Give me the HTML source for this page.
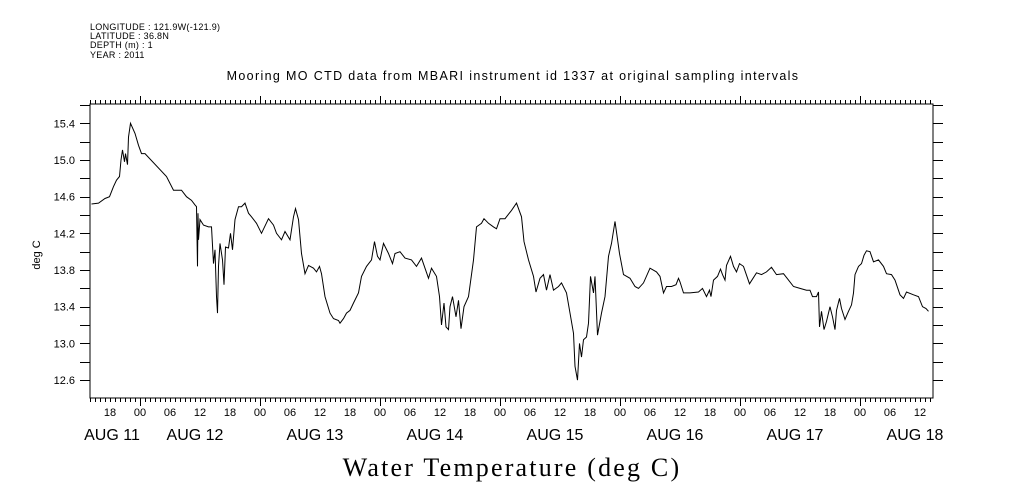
<!DOCTYPE html>
<html><head><meta charset="utf-8">
<style>
html,body{margin:0;padding:0;background:#fff;}
svg{display:block;}
text{font-family:"Liberation Sans",sans-serif;fill:#000;}
</style></head>
<body>
<svg id="chart" width="1009" height="504" viewBox="0 0 1009 504" xmlns="http://www.w3.org/2000/svg">
  <g font-size="9" letter-spacing="0.3">
    <text x="90" y="30">LONGITUDE : 121.9W(-121.9)</text>
    <text x="90" y="39">LATITUDE : 36.8N</text>
    <text x="90" y="48">DEPTH (m) : 1</text>
    <text x="90" y="58">YEAR : 2011</text>
  </g>
  <text x="513" y="80" text-anchor="middle" font-size="12.5" letter-spacing="1.35">Mooring MO CTD data from MBARI instrument id 1337 at original sampling intervals</text>
  <text x="0" y="0" transform="translate(40,255) rotate(-90)" text-anchor="middle" font-size="11">deg C</text>
  <text x="512" y="476" text-anchor="middle" font-size="26" letter-spacing="2.2" style="font-family:'Liberation Serif',serif">Water Temperature (deg C)</text>
  <rect x="90" y="104" width="843" height="294" fill="none" stroke="#000" stroke-width="1"/>
  <g id="axes"></g>
  <path id="series" fill="none" stroke="#000" stroke-width="1"/>
</svg>
<script>
// hours relative to Aug 12 00:00
const hours = [-9.7,-8.3,-7,-6.1,-5.3,-4.7,-4.1,-3.8,-3.5,-3.1,-2.9,-2.5,-2.3,-1.9,-1,-0.3,0.3,1,5.3,6.7,8.3,9.3,10.3,11,11.3,11.5,11.6,11.7,12,12.7,13.7,14.3,14.7,15,15.3,15.5,15.7,16,16.5,16.8,17.1,17.7,18.1,18.5,19,19.7,20.3,21,21.7,22.3,23.3,24.3,25.7,26.7,27.3,28.3,29,30,30.7,31.1,31.7,32.3,33,33.7,34.7,35.3,35.9,36.3,37,38,38.7,39.7,40,40.7,41.3,42,42.7,43.7,44.3,45.3,46.3,46.9,47.5,48,48.7,49.7,50.5,51,52,53,54.3,55.3,56.3,57,57.7,58.3,59.3,59.9,60.3,60.8,61.2,61.7,62,62.5,63.2,63.7,64.2,64.8,65.7,66.7,67.3,68.3,68.8,69.7,70.7,71.3,72,73,74.3,75.3,76.3,76.8,77.7,78.7,79.2,80,80.7,81.3,82,82.7,83.7,84.3,85.3,86,86.7,87,87.5,87.9,88.3,88.7,89.3,89.7,90.1,90.7,91,91.5,92.3,93,93.7,94.3,95,95.9,96.7,98,99,99.7,100.7,102,103.3,104,104.7,105.3,106.3,107.2,107.7,108,108.7,110,111.7,112.5,113.3,113.9,114.2,114.7,115.5,116.1,116.5,117,117.3,118.1,118.7,119.3,119.9,120.7,121.9,123.3,124.3,125.3,126.3,127.3,128.7,129.7,130.7,132,133.3,134,134.5,135.3,135.7,135.9,136.3,136.8,137.3,138,138.5,139,139.3,139.9,140.3,141,141.7,142.3,142.7,143,143.7,144.3,144.8,145.3,146,146.7,147.7,148.7,149.3,150.3,151,152,152.7,153.3,154.7,155.7,156.5,157.2,157.7];
const temps = [14.52,14.53,14.58,14.60,14.71,14.78,14.82,15.0,15.11,14.98,15.07,14.95,15.25,15.4,15.29,15.16,15.07,15.07,14.82,14.67,14.67,14.60,14.56,14.51,14.49,13.84,14.42,14.13,14.35,14.29,14.27,14.27,13.87,14.02,13.51,13.33,13.84,14.09,13.91,13.64,14.05,14.04,14.20,14.02,14.35,14.49,14.49,14.53,14.42,14.38,14.31,14.20,14.36,14.29,14.20,14.13,14.22,14.13,14.38,14.47,14.35,13.98,13.76,13.85,13.82,13.78,13.84,13.76,13.51,13.33,13.27,13.25,13.22,13.27,13.33,13.36,13.44,13.55,13.73,13.84,13.91,14.11,13.95,13.91,14.09,13.98,13.87,13.98,14.00,13.93,13.91,13.84,13.93,13.82,13.71,13.82,13.73,13.51,13.20,13.44,13.18,13.15,13.40,13.51,13.29,13.47,13.16,13.40,13.51,13.91,14.27,14.31,14.36,14.31,14.27,14.25,14.36,14.36,14.45,14.53,14.38,14.11,13.91,13.73,13.56,13.71,13.75,13.58,13.75,13.58,13.62,13.66,13.55,13.33,13.11,12.75,12.60,13.00,12.85,13.04,13.07,13.22,13.73,13.55,13.73,13.09,13.33,13.51,13.95,14.09,14.33,13.98,13.75,13.71,13.62,13.60,13.66,13.82,13.78,13.73,13.55,13.62,13.62,13.64,13.71,13.67,13.55,13.55,13.56,13.60,13.51,13.58,13.51,13.69,13.73,13.81,13.75,13.69,13.85,13.95,13.84,13.78,13.87,13.84,13.65,13.77,13.75,13.78,13.83,13.75,13.76,13.69,13.62,13.60,13.58,13.58,13.51,13.51,13.56,13.18,13.35,13.15,13.24,13.40,13.29,13.15,13.36,13.49,13.38,13.26,13.35,13.42,13.55,13.75,13.84,13.87,13.96,14.01,14.00,13.89,13.91,13.84,13.76,13.75,13.69,13.53,13.49,13.56,13.53,13.51,13.40,13.38,13.35];
const yTickLabels = ["12.6","13.0","13.4","13.8","14.2","14.6","15.0","15.4"];
const hourLabels = ["18","00","06","12"];
const dayLabels = ["AUG 11","AUG 12","AUG 13","AUG 14","AUG 15","AUG 16","AUG 17","AUG 18"];

const X0 = 90, X1 = 933, Y0 = 104, Y1 = 398;
const xs = h => 140 + h * 5;
const ys = t => 123.3 + (15.4 - t) * 91.7;
const NS = "http://www.w3.org/2000/svg";
const axes = document.getElementById("axes");
function mk(tag, attrs, txt){ const e=document.createElementNS(NS,tag); for(const k in attrs) e.setAttribute(k,attrs[k]); if(txt!==undefined) e.textContent=txt; axes.appendChild(e); return e; }

let d = "";
for (let h = -10; h <= 158; h++) {
  const x = xs(h) + 0.5;
  if (x < X0 || x > X1 + 1) continue;
  const len = (((h % 24) + 24) % 24 === 0) ? 8 : 4;
  d += `M${x},${Y1}v${len}M${x},${Y0}v${-len}`;
}
for (let t = 12.4; t <= 15.61; t += 0.2) {
  const y = Math.round(ys(t)) + 0.5;
  if (y < Y0 || y > Y1) continue;
  d += `M${X0 - 10},${y}h10M${X1},${y}h10`;
}
const tk = mk("path", {d: d, stroke: "#000", "stroke-width": 1, fill: "none"});



yTickLabels.forEach(lbl => {
  const t = mk("text", {x: 75, y: ys(parseFloat(lbl)) + 4, "text-anchor": "end", "font-size": 11}, lbl);
  
  
});
for (let h = -6; h <= 156; h += 6) {
  const lbl = hourLabels[((h / 6) % 4 + 4 + 1) % 4];
  const t = mk("text", {x: xs(h), y: 416, "text-anchor": "middle", "font-size": 11}, lbl);
  
  
}
dayLabels.forEach((lbl, i) => {
  const x = i === 0 ? 112 : xs((i - 1) * 24 + 12) - 5;
  const t = mk("text", {x: x, y: 440, "text-anchor": "middle", "font-size": 16}, lbl);
  
  
});

let p = "";
hours.forEach((h, i) => { p += (i ? "L" : "M") + xs(h).toFixed(1) + "," + ys(temps[i]).toFixed(1); });
document.getElementById("series").setAttribute("d", p);
</script>
</body></html>
